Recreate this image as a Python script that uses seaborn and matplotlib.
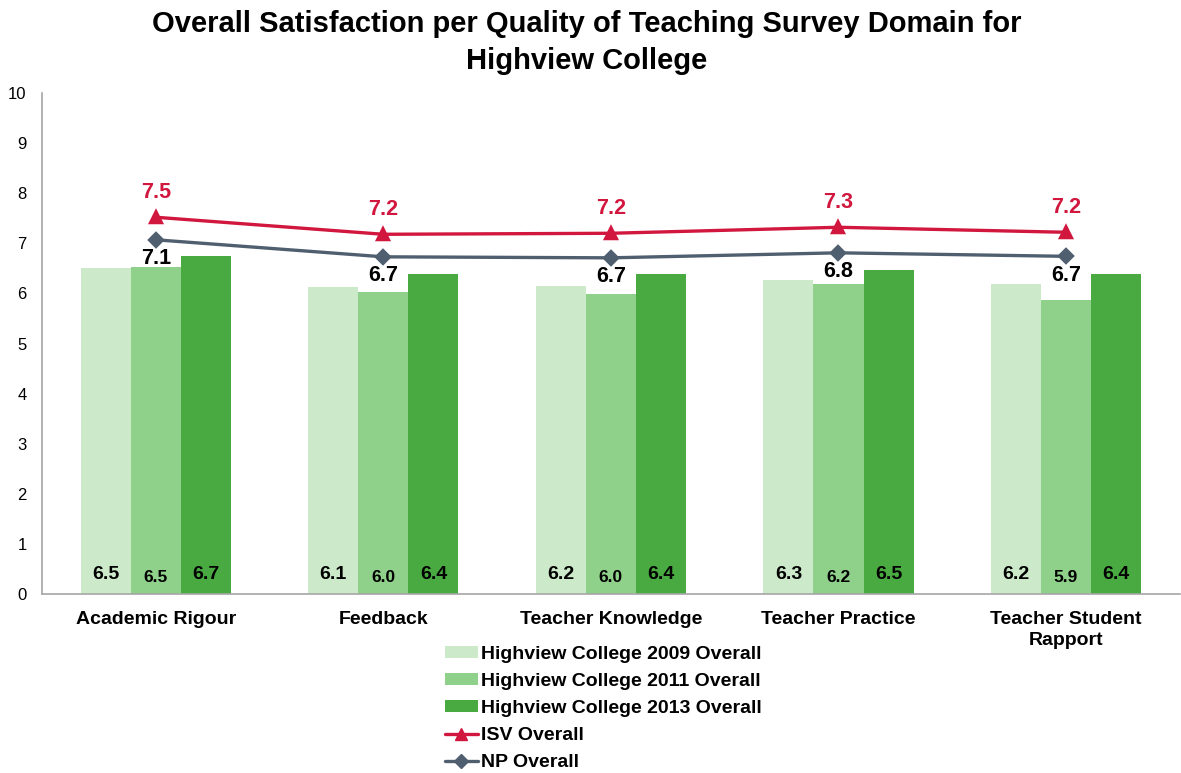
import matplotlib
matplotlib.use("Agg")
import matplotlib.pyplot as plt
import seaborn as sns
import pandas as pd
from matplotlib.patches import Patch
from matplotlib.lines import Line2D

domains = ["Academic Rigour", "Feedback", "Teacher Knowledge", "Teacher Practice", "Teacher Student\nRapport"]
series_names = ["Highview College 2009 Overall", "Highview College 2011 Overall", "Highview College 2013 Overall"]
hv2009 = [6.51, 6.13, 6.15, 6.27, 6.19]
hv2011 = [6.53, 6.03, 5.99, 6.19, 5.87]
hv2013 = [6.74, 6.39, 6.39, 6.47, 6.39]
isv = [7.52, 7.18, 7.20, 7.32, 7.22]
np_overall = [7.07, 6.73, 6.71, 6.81, 6.74]
yticks = list(range(0, 11))

bar_colors = ["#CCEACA", "#8FD18A", "#4AAA42"]
isv_color = "#D2173F"
np_color = "#4F5F6F"

sns.set_theme(style="white")
plt.rcParams["font.family"] = ["Liberation Sans", "DejaVu Sans"]
plt.rcParams["text.color"] = "black"

df = pd.DataFrame({
    "Domain": domains * 3,
    "Series": [series_names[0]] * 5 + [series_names[1]] * 5 + [series_names[2]] * 5,
    "Score": hv2009 + hv2011 + hv2013,
})

fig = plt.figure(figsize=(11.81, 7.73), dpi=100)
ax = fig.add_axes([42 / 1181, 1 - 594 / 773, 1 - 42 / 1181 - 0.001, (594 - 93) / 773])

sns.barplot(data=df, x="Domain", y="Score", hue="Series", order=domains,
            hue_order=series_names, palette=bar_colors, width=0.66, gap=0,
            saturation=1, legend=False, ax=ax, edgecolor="none", linewidth=0)

sns.pointplot(x=domains, y=isv, order=domains, color=isv_color, markers="^",
              linestyles="-", ax=ax, markersize=9, linewidth=2.4)
sns.pointplot(x=domains, y=np_overall, order=domains, color=np_color, markers="D",
              linestyles="-", ax=ax, markersize=7, linewidth=2.4)

# bar value labels at bottom
label_sizes = [14, 12.5, 14]
for cont, vals, fs in zip(ax.containers, [hv2009, hv2011, hv2013], label_sizes):
    for rect, v in zip(cont, vals):
        ax.text(rect.get_x() + rect.get_width() / 2, 0.38 if fs == 14 else 0.33,
                f"{v:.1f}", ha="center", va="center", fontsize=fs,
                fontweight="bold", color="black", zorder=5)

for i, v in enumerate(isv):
    ax.annotate(f"{v:.1f}", (i, v), xytext=(0, 18), textcoords="offset points",
                ha="center", va="center", fontsize=15.5, fontweight="bold",
                color=isv_color, zorder=6)
for i, v in enumerate(np_overall):
    ax.annotate(f"{v:.1f}", (i, v), xytext=(0, -13.5), textcoords="offset points",
                ha="center", va="center", fontsize=15.5, fontweight="bold",
                color="black", zorder=6)

ax.set_ylim(0, 10)
ax.set_xlim(-0.5, 4.5)
ax.set_yticks(yticks)
ax.set_yticklabels([str(t) for t in yticks], fontsize=12, color="black")
ax.set_xlabel("")
ax.set_ylabel("")
ax.tick_params(axis="x", which="major", length=0, pad=12)
ax.set_xticks([i - 0.5 for i in range(6)], minor=True)
ax.tick_params(axis="x", which="minor", length=5, color="#999999", direction="out", width=1)
ax.tick_params(axis="y", length=5, color="#999999", direction="out", width=1, pad=6)
for lbl in ax.get_xticklabels():
    lbl.set_fontsize(14)
    lbl.set_fontweight("bold")
    lbl.set_color("black")
    lbl.set_verticalalignment("top")
    lbl.set_linespacing(1.35)
for s in ["top", "right"]:
    ax.spines[s].set_visible(False)
for s in ["left", "bottom"]:
    ax.spines[s].set_color("#A6A6A6")
    ax.spines[s].set_linewidth(1.2)
ax.grid(False)

fig.text(587 / 1181, 1 - 10 / 773,
         "Overall Satisfaction per Quality of Teaching Survey Domain for\nHighview College",
         ha="center", va="top", fontsize=21, fontweight="bold", color="black",
         linespacing=1.4)

handles = [Patch(facecolor=c, edgecolor="none") for c in bar_colors]
handles.append(Line2D([0], [0], color=isv_color, lw=2.4, marker="^", markersize=9))
handles.append(Line2D([0], [0], color=np_color, lw=2.4, marker="D", markersize=7))
labels = series_names + ["ISV Overall", "NP Overall"]
leg = fig.legend(handles, labels, loc="upper left", bbox_to_anchor=(435 / 1181, 1 - 636 / 773),
                 frameon=False, prop={"size": 14, "weight": "bold"}, handlelength=1.7,
                 handleheight=0.6, handletextpad=0.15, labelspacing=0.52, borderpad=0)
for t in leg.get_texts():
    t.set_color("black")

fig.savefig("out.png", dpi=100)
